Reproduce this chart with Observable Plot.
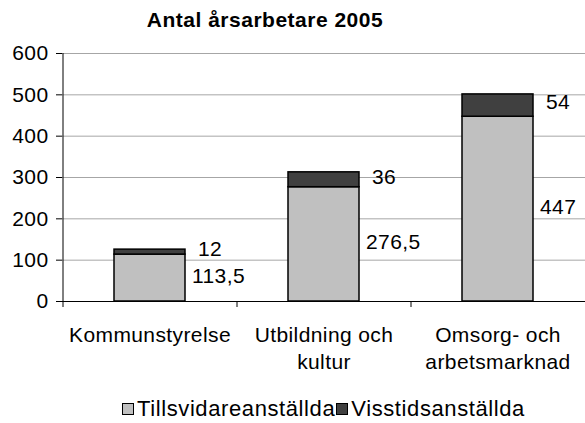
<!DOCTYPE html>
<html>
<head>
<meta charset="utf-8">
<script src="https://cdn.jsdelivr.net/npm/d3@7"></script>
<script src="https://cdn.jsdelivr.net/npm/@observablehq/plot@0.6"></script>
<style>
  html, body { margin: 0; padding: 0; background: #fff; }
  body { width: 585px; height: 423px; position: relative; overflow: hidden; font-family: "Liberation Sans", Arial, sans-serif; color: #000; }
  #title { position: absolute; left: 0; top: 0; width: 530px; height: 38px; line-height: 40px; text-align: center; font-weight: bold; font-size: 21px; letter-spacing: 0.5px; }
  #chart { position: absolute; left: 0; top: 38px; }
  #legend { position: absolute; left: 122px; top: 396px; display: flex; align-items: center; font-size: 22px; letter-spacing: 0.6px; white-space: nowrap; }
  .sw { width: 10px; height: 10px; border: 1px solid #000; display: inline-block; margin-right: 3px; }
  .item { display: flex; align-items: center; margin-right: 1px; }
</style>
</head>
<body>
<div id="title">Antal årsarbetare 2005</div>
<div id="chart"></div>
<div id="legend"></div>
<script>
const categories = ["Kommunstyrelse", "Utbildning och kultur", "Omsorg- och arbetsmarknad"];
const catLabels = ["Kommunstyrelse", "Utbildning och\nkultur", "Omsorg- och\narbetsmarknad"];
const seriesNames = ["Tillsvidareanställda", "Visstidsanställda"];
const tillsvidare = [113.5, 276.5, 447];
const visstid = [12, 36, 54];
const seriesColors = ["#c0c0c0", "#404040"];
const yTicks = [0, 100, 200, 300, 400, 500, 600];

const data = [];
categories.forEach((c, i) => {
  data.push({cat: c, series: seriesNames[0], value: tillsvidare[i]});
  data.push({cat: c, series: seriesNames[1], value: visstid[i]});
});
const fmt = v => String(v).replace(".", ",");

const plot = Plot.plot({
  width: 585,
  height: 345,
  marginTop: 15,
  marginBottom: 82,
  marginLeft: 62,
  marginRight: 0,
  style: {fontFamily: "'Liberation Sans', Arial, sans-serif", fontSize: "21px", letterSpacing: "0.4px", color: "#000", background: "#fff"},
  x: {domain: categories, paddingInner: 0.59, paddingOuter: 0.295, axis: null},
  y: {domain: [0, 600], ticks: yTicks, tickSize: 6, tickPadding: 8, label: null, tickFormat: d => d},
  color: {domain: seriesNames, range: seriesColors},
  marks: [
    Plot.ruleY(yTicks.filter(d => d > 0), {stroke: "#a6a6a6", strokeWidth: 1}),
    Plot.barY(data, {x: "cat", y: "value", fill: "series", stroke: "#000", strokeWidth: 1.5}),
    Plot.ruleY([0], {stroke: "#000"}),
    Plot.text(data, Plot.stackY({x: "cat", y: "value", z: "series",
      text: d => d.series === seriesNames[0] ? fmt(d.value) : "",
      textAnchor: "start", dx: 42, dy: -2, fill: "#000"})),
    Plot.text(data, Plot.stackY({x: "cat", y: "value", z: "series",
      text: d => d.series === seriesNames[1] ? fmt(d.value) : "",
      textAnchor: "start", dx: 48, dy: -3, fill: "#000"})),
    Plot.text(categories, {x: d => d, text: (d, i) => catLabels[i], frameAnchor: "bottom",
      lineAnchor: "top", dy: 21, lineHeight: 1.3, fill: "#000"})
  ]
});

// left axis line and category boundary ticks, derived from the scales
const xs = plot.scale("x"), ys = plot.scale("y");
const y0 = ys.apply(0), yTop = ys.apply(600);
const svg = d3.select(plot);
const g = svg.append("g").attr("stroke", "#000").attr("stroke-width", 1);
const left = xs.apply(categories[0]) + xs.bandwidth / 2 - xs.step / 2;
g.append("line").attr("x1", left + 0.5).attr("x2", left + 0.5).attr("y1", yTop).attr("y2", y0);
categories.forEach(c => {
  const bx = xs.apply(c) + xs.bandwidth / 2 - xs.step / 2;
  g.append("line").attr("x1", bx + 0.5).attr("x2", bx + 0.5).attr("y1", y0).attr("y2", y0 + 6);
});
document.getElementById("chart").appendChild(plot);

const legend = document.getElementById("legend");
seriesNames.forEach((s, i) => {
  const item = document.createElement("span");
  item.className = "item";
  const sw = document.createElement("span");
  sw.className = "sw";
  sw.style.background = seriesColors[i];
  item.appendChild(sw);
  item.appendChild(document.createTextNode(s));
  legend.appendChild(item);
});
</script>
</body>
</html>
